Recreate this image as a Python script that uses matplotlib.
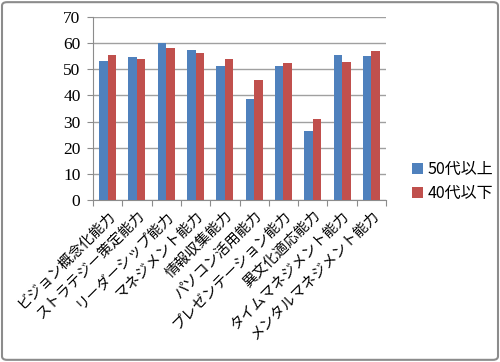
import matplotlib
matplotlib.use("Agg")
import matplotlib.pyplot as plt
import numpy as np
from matplotlib.patches import FancyBboxPatch

categories = ["ビジョン概念化能力", "ストラテジー策定能力", "リーダーシップ能力", "マネジメント能力",
              "情報収集能力", "パソコン活用能力", "プレゼンテーション能力", "異文化適応能力",
              "タイムマネジメント能力", "メンタルマネジメント能力"]
series_names = ["50代以上", "40代以下"]
vals_50 = [53.2, 54.7, 59.9, 57.3, 51.4, 38.5, 51.4, 26.3, 55.5, 55.0]
vals_40 = [55.5, 53.9, 58.3, 56.1, 53.9, 45.9, 52.5, 31.0, 52.8, 56.9]
yticks = [0, 10, 20, 30, 40, 50, 60, 70]

plt.rcParams['font.family'] = ['Noto Sans CJK JP', 'DejaVu Sans']

fig = plt.figure(figsize=(5, 3.62), dpi=100)
ax = fig.add_axes([0.186, 0.4475, 0.586, 0.5055])

x = np.arange(len(categories))
w = 0.29
ax.bar(x - w/2, vals_50, w, color="#4F81BD", label=series_names[0], zorder=3)
ax.bar(x + w/2, vals_40, w, color="#C0504D", label=series_names[1], zorder=3)

ax.set_xlim(-0.5, len(categories) - 0.5)
ax.set_ylim(0, 70)
ax.set_yticks(yticks)
ax.set_yticklabels([str(t) for t in yticks], fontsize=12.5, family=['Liberation Serif', 'DejaVu Serif'])
ax.yaxis.grid(True, color="#A0A0A0", linewidth=1, zorder=0)
ax.set_axisbelow(True)
for s in ["top", "right"]:
    ax.spines[s].set_visible(False)
ax.spines["left"].set_color("#8C8C8C")
ax.spines["bottom"].set_color("#8C8C8C")
ax.tick_params(axis="y", direction="out", length=4, color="#8C8C8C", pad=5)

ax.set_xticks(np.arange(len(categories) + 1) - 0.5, minor=False)
ax.set_xticklabels([])
ax.tick_params(axis="x", which="major", direction="out", length=4, color="#8C8C8C")
ax.set_xticks(x, minor=True)
ax.set_xticklabels(categories, minor=True, rotation=45, ha="right", va="top",
                   rotation_mode="anchor", fontsize=10.5)
ax.tick_params(axis="x", which="minor", length=0, pad=6)

leg = fig.legend(loc="upper left", bbox_to_anchor=(0.795, 0.595), frameon=False,
                 fontsize=11.5, handlelength=0.7, handleheight=0.7, handletextpad=0.3,
                 labelspacing=0.45)

border = FancyBboxPatch((0.004, 0.006), 0.992, 0.988, boxstyle="round,pad=0,rounding_size=0.01",
                        transform=fig.transFigure, fill=False, edgecolor="#8C8C8C", linewidth=1.5)
fig.patches.append(border)

fig.savefig("out.png", dpi=100)
